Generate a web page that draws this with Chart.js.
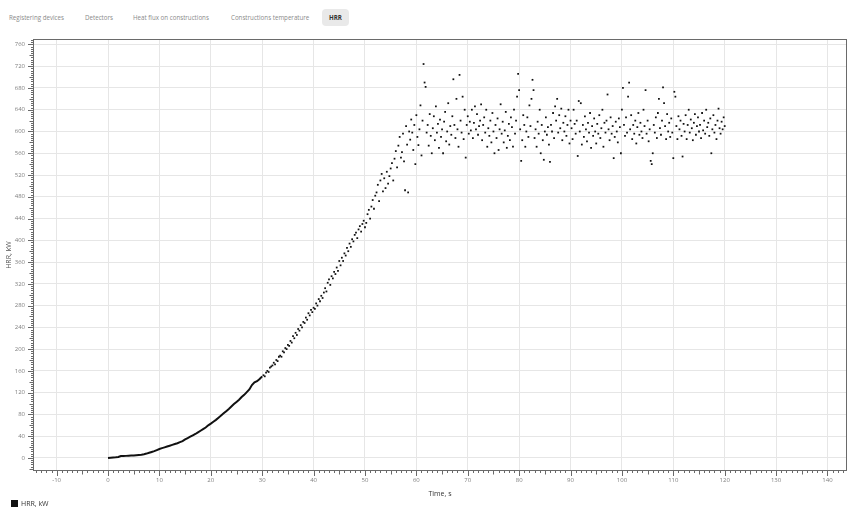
<!DOCTYPE html>
<html>
<head>
<meta charset="utf-8">
<script src="https://cdn.jsdelivr.net/npm/chart.js@4.4.1/dist/chart.umd.min.js"></script>
<style>
    body { margin: 0; background: #fff; font-family: "Open Sans", sans-serif; }
    #wrap { position: absolute; left: 0; top: 0; width: 854px; height: 500px; }
    .tab { position: absolute; top: 9px; height: 17px; line-height: 17px; font-size: 6.2px; color: #8a8a8a; white-space: nowrap; }
    .tab.active { background: #e9e9e9; border-radius: 4px; color: #333; font-weight: bold; width: 27px; text-align: center; }
    #legend { position: absolute; left: 11px; top: 500px; font-size: 7px; color: #333; line-height: 8px; }
    #legend span.color { display: inline-block; width: 7px; height: 7px; vertical-align: -1px; margin-right: 3px; }
</style>
</head>
<body>
<div class="tab" style="left:9px">Registering devices</div>
<div class="tab" style="left:85px">Detectors</div>
<div class="tab" style="left:133px">Heat flux on constructions</div>
<div class="tab" style="left:231px">Constructions temperature</div>
<div class="tab active" style="left:322px">HRR</div>
<div id="wrap"><canvas id="hrr-chart" width="854" height="500"></canvas></div>
<div id="legend"><span class="color"></span>HRR, kW</div>
<script>
// HRR samples, three stretches with their own time step (s)
var riseStart = 0, riseStep = 0.5;
var riseHrr = [
    0, 0.4, 0.8, 1.2, 1.8, 3.5, 3.6, 3.8, 4, 4.3,
    4.6, 5, 5.5, 6, 6.8, 8, 9.5, 11, 12.5, 14.5,
    16.5, 18, 19.5, 21, 22.5, 24, 25.5, 27, 29, 31,
    34, 36.5, 39, 41.5, 44, 47, 50, 53, 56, 60,
    63, 66.5, 70, 74, 78, 82, 86, 90, 94.5, 99,
    103, 107, 112, 116, 121, 126, 134, 139, 141, 145,
    150
];

var growthStart = 30.25, growthStep = 0.25;
var growthHrr = [
    152, 150, 157, 160, 158, 166, 168, 170,
    175, 172, 180, 178, 186, 188, 186, 196,
    194, 202, 200, 208, 206, 215, 212, 224,
    220, 230, 226, 237, 234, 244, 240, 250,
    248, 258, 254, 266, 262, 272, 268, 276,
    274, 284, 280, 292, 288, 298, 294, 304,
    312, 306, 322, 328, 318, 334, 330, 342,
    338, 350, 344, 362, 354, 368, 362, 376,
    372, 386, 380, 394, 388, 402, 398, 410,
    414, 404, 420, 426, 416, 430, 436, 424,
    432, 448, 456, 440, 462, 474, 458, 482,
    488, 502, 472, 510, 522, 490, 514, 496,
    526, 504, 518, 532, 542, 510, 550, 564,
    534, 574, 590, 552
];

var plateauStart = 57.2, plateauStep = 0.2;
var plateauHrr = [
    562, 596, 545, 492, 610, 576, 488, 600, 585, 622,
    598, 566, 612, 540, 630, 590, 575, 604, 648, 556,
    620, 724, 690, 682, 598, 612, 574, 632, 592, 560,
    606, 628, 584, 646, 598, 614, 570, 622, 590, 604,
    560, 618, 636, 582, 600, 652, 576, 610, 594, 628,
    696, 612, 588, 660, 604, 572, 704, 620, 598, 664,
    586, 640, 552, 612, 628, 596, 618, 602, 640, 588,
    616, 646, 604, 632, 594, 610, 620, 650, 584, 612,
    626, 598, 640, 572, 606, 592, 620, 580, 634, 600,
    560, 612, 588, 624, 566, 604, 650, 596, 618, 580,
    602, 636, 570, 592, 614, 584, 626, 608, 572, 640,
    596, 620, 664, 706, 676, 604, 546, 584, 630, 612,
    572, 600, 626, 590, 648, 610, 660, 695, 676, 588,
    604, 572, 618, 596, 640, 560, 612, 584, 548, 600,
    626, 594, 608, 576, 544, 612, 600, 634, 588, 646,
    620, 660, 598, 630, 606, 642, 584, 616, 600, 628,
    592, 612, 640, 578, 620, 606, 586, 640, 614, 596,
    620, 555, 656, 600, 652, 576, 612, 590, 628, 604,
    582, 616, 598, 634, 570, 610, 592, 624, 600, 578,
    614, 596, 630, 588, 606, 640, 572, 616, 598, 620,
    668, 604, 584, 626, 596, 610, 551, 590, 618, 600,
    580, 624, 608, 560, 640, 680, 612, 592, 626, 598,
    664, 690, 604, 630, 586, 612, 596, 620, 578, 608,
    634, 594, 616, 600, 588, 640, 610, 676, 596, 620,
    582, 604, 546, 540, 560, 612, 598, 626, 588, 634,
    660, 606, 594, 620, 681, 652, 610, 586, 632, 600,
    616, 590, 624, 598, 551, 673, 664, 610, 586, 628,
    604, 620, 592, 554, 614, 600, 630, 586, 612, 640,
    598, 622, 606, 584, 616, 632, 594, 610, 626, 600,
    612, 588, 634, 602, 620, 596, 640, 608, 616, 592,
    624, 560, 604, 630, 598, 612, 586, 620, 642, 606,
    596, 618, 604, 626, 610
];

var timeTicks = [-10, 0, 10, 20, 30, 40, 50, 60, 70, 80, 90, 100, 110, 120, 130, 140];
var hrrTicks = [0, 40, 80, 120, 160, 200, 240, 280, 320, 360, 400, 440, 480, 520, 560, 600, 640, 680, 720, 760];

function stretch(start, step, values) {
    var result = [];
    for (var i = 0; i < values.length; i++) {
        result.push({ x: start + i * step, y: values[i] });
    }
    return result;
}
var risePoints = stretch(riseStart, riseStep, riseHrr);
var scatterPoints = stretch(growthStart, growthStep, growthHrr)
    .concat(stretch(plateauStart, plateauStep, plateauHrr));

var dotColor = "#111111";
document.querySelector("#legend span.color").style.backgroundColor = dotColor;

// plot frame and the small ticks outside the axes
var frameTicks = {
    id: 'frameTicks',
    afterDraw: function (chart) {
        var ctx = chart.ctx;
        var area = chart.chartArea;
        var xs = chart.scales.x;
        var ys = chart.scales.y;
        ctx.save();
        ctx.strokeStyle = "#6a6a6a";
        ctx.lineWidth = 1;
        ctx.strokeRect(Math.round(area.left) + 0.5, Math.round(area.top) + 0.5,
            Math.round(area.right - area.left) - 1, Math.round(area.bottom - area.top) - 1);
        ctx.beginPath();
        for (var v = -14; v <= 143; v++) {
            var len = v % 10 === 0 ? 5 : (v % 5 === 0 ? 3.5 : 2);
            var px = Math.round(xs.getPixelForValue(v)) + 0.5;
            ctx.moveTo(px, area.bottom);
            ctx.lineTo(px, area.bottom + len);
        }
        for (var w = -20; w <= 768; w += 4) {
            var l = w % 40 === 0 ? 5 : (w % 20 === 0 ? 3.5 : 2);
            var py = Math.round(ys.getPixelForValue(w)) + 0.5;
            ctx.moveTo(area.left, py);
            ctx.lineTo(area.left - l, py);
        }
        ctx.stroke();
        ctx.restore();
    }
};

var hrrCanvas = document.getElementById("hrr-chart");
var hrrChart = new Chart(hrrCanvas, {
    type: 'scatter',
    data: {
        datasets: [{
            label: 'HRR, kW',
            data: risePoints,
            showLine: true,
            borderColor: dotColor,
            borderWidth: 2,
            pointRadius: 0,
            pointHoverRadius: 0
        }, {
            label: 'HRR, kW',
            data: scatterPoints,
            backgroundColor: dotColor,
            borderWidth: 0,
            pointStyle: 'rect',
            pointRadius: 1.25,
            pointHoverRadius: 1.25
        }]
    },
    options: {
        responsive: false,
        animation: false,
        layout: {
            padding: { top: 39, right: 7, left: 0, bottom: 0 }
        },
        scales: {
            x: {
                type: 'linear',
                min: -14.6,
                max: 143.8,
                afterBuildTicks: function (scale) {
                    scale.ticks = timeTicks.map(function (v) { return { value: v }; });
                },
                afterFit: function (scale) { scale.height = 29; },
                grid: { color: "#e6e6e6", drawTicks: false },
                border: { display: false },
                ticks: { padding: 6, maxRotation: 0, color: "#808080", font: { family: "Open Sans", size: 6 } },
                title: {
                    display: true,
                    text: 'Time, s',
                    color: "#333",
                    font: { family: "Open Sans", size: 7 },
                    padding: { top: 0, bottom: 2 }
                }
            },
            y: {
                type: 'linear',
                min: -24,
                max: 770,
                afterBuildTicks: function (scale) {
                    scale.ticks = hrrTicks.map(function (v) { return { value: v }; });
                },
                afterFit: function (scale) { scale.width = 33; },
                grid: { color: "#e6e6e6", drawTicks: false },
                border: { display: false },
                ticks: { padding: 8, color: "#808080", font: { family: "Open Sans", size: 6 } },
                title: {
                    display: true,
                    text: 'HRR, kW',
                    color: "#555",
                    font: { family: "Open Sans", size: 7 },
                    padding: { top: 5, bottom: 0 }
                }
            }
        },
        plugins: {
            legend: { display: false },
            tooltip: { enabled: false }
        }
    },
    plugins: [frameTicks]
});
</script>
</body>
</html>
